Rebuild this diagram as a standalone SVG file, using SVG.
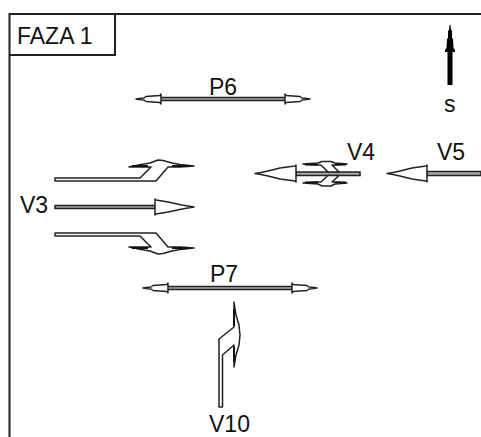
<svg xmlns="http://www.w3.org/2000/svg" width="481" height="437" viewBox="0 0 481 437">
<style>
text{font-family:"Liberation Sans",Arial,sans-serif;font-size:23px;fill:#111}
.o{fill:#fff;stroke:#222;stroke-width:1.5;stroke-linejoin:round}
.g{fill:#aaa;stroke:#222;stroke-width:1.5}
.d{fill:none;stroke:#111;stroke-width:2}
</style>
<defs>
<path id="hr" class="o" d="M-25,-5 L-24,-3.500 L-10,-2.500 L-8,-1 L-3,-0.500 L0,0 L-3,0.500 L-8,1 L-10,2.500 L-24,3.500 L-25,5 Z"/>
<path id="v3top" class="o" d="M55,178 H140 L151,167 H129 L141,164.500 L150,163 L158,160 L163,160.500 L172,163 L180,164.500 L194,166 L180,167 H168 L156,181 H55 Z"/>
</defs>
<rect width="481" height="437" fill="#fff"/>
<g id="frame" fill="none" stroke="#222" stroke-width="2">
<path d="M9.500,437 V14 H481"/>
<path d="M9.500,55 H115 V14"/>
</g>
<g id="connectors">
<g id="conn-P6"><rect class="g" x="160" y="97.500" width="126" height="3"/><use href="#hr" transform="translate(310,99)"/><use href="#hr" transform="translate(136,99) scale(-1,1)"/></g>
<g id="conn-P7"><rect class="g" x="167" y="286.500" width="127" height="3"/><use href="#hr" transform="translate(317,288)"/><use href="#hr" transform="translate(143,288) scale(-1,1)"/></g>
<g id="conn-V3">
<use href="#v3top"/>
<use href="#v3top" transform="translate(0,414) scale(1,-1)"/>
<rect class="g" x="55" y="205.500" width="101" height="3"/>
<path class="o" d="M155,199 L156,200 L168,202 L182,205 L188,206 L194,207 L188,208 L182,209 L168,212 L156,214 L155,215 Z"/>
<path class="d" d="M132,166 H148 M172,166 H190 M132,248 H148 M172,248 H190"/>
</g>
<g id="conn-V4">
<rect class="g" x="296" y="172" width="64" height="3.500"/>
<path class="o" d="M303,164 L318,163 L322,161.500 H331 L335,163 L347,164 L335,165 H332 L339,172 H328 L321,165 H315 Z"/>
<path class="o" d="M303,183 L318,184 L322,186 H331 L335,184 L347,183 L335,182 H332 L339,175.500 H328 L321,182 H315 Z"/>
<path class="o" d="M296,165 L295,166 L280,168 L268,171 L261,172.500 L255,173.500 L261,174.500 L268,176 L280,179 L295,181 L296,182 Z"/>
<path class="d" d="M305,164.500 H318 M335,164.500 H346 M305,182.500 H318 M335,182.500 H346"/>
</g>
<g id="conn-V5">
<rect class="g" x="427" y="171.500" width="54" height="4"/>
<path class="o" d="M427,165 L426,166 L412,168 L400,171 L393,172.500 L387,173.500 L393,174.500 L400,176 L412,179 L426,181 L427,182 Z"/>
</g>
<g id="conn-V10">
<path class="o" d="M219,407 V339 L234,327 V302 L236,315 L239,325 L240,335 L239,345 L236,355 L234,367 V345 L222.500,355 V407 Z"/>
<path class="d" d="M234,309 V326 M234,347 V362"/>
</g>
<g id="conn-s">
<path fill="#000" d="M449.500,25 H450.500 L451,30 L452,31 V38 L453,39 L453.500,48 L455,50 V52 H452.500 V85 H447.500 V52 H445 V50 L446.500,48 L447,39 L448,38 V31 L449,30 Z"/>
</g>
</g>
<g id="node-faza"><text x="17" y="44">FAZA 1</text></g>
<g id="node-s"><text x="444" y="112">s</text></g>
<g id="node-P6"><text x="209" y="95">P6</text></g>
<g id="node-P7"><text x="210" y="282">P7</text></g>
<g id="node-V3"><text x="20" y="213">V3</text></g>
<g id="node-V4"><text x="347" y="160">V4</text></g>
<g id="node-V5"><text x="437" y="160">V5</text></g>
<g id="node-V10"><text x="209" y="432">V10</text></g>
</svg>
